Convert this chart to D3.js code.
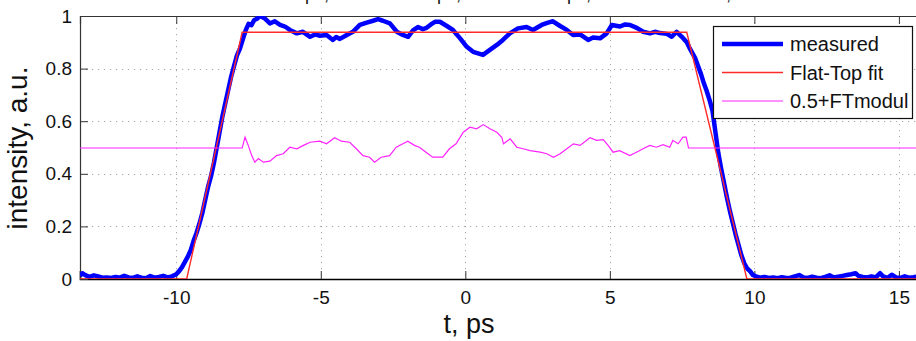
<!DOCTYPE html>
<html>
<head>
<meta charset="utf-8">
<script src="https://cdn.jsdelivr.net/npm/d3@7"></script>
<style>
  html, body { margin: 0; padding: 0; background: #fff; }
  svg { display: block; font-family: "Liberation Sans", Arial, Helvetica, sans-serif; }
</style>
</head>
<body>
<svg id="chart" width="916" height="341"></svg>
<script>
// Pulse intensity profile: measured trace, flat-top fit, and 0.5 + modulation
const xTicks = [-10, -5, 0, 5, 10, 15];
const yTicks = [0, 0.2, 0.4, 0.6, 0.8, 1];
const seriesNames = ["measured", "Flat-Top fit", "0.5+FTmodul"];
const titleParts = ["\u03c4rise=1.92ps,", "\u03c4fall=2.08ps,", "FWHM=17.38ps,", "mod=4.6%,", "rms=2.1%"];

// measured trace [t (ps), intensity]
const measured = [
  [-13.33,0.012],[-13.25,0.022],[-13.15,0.015],[-13.0,0.008],[-12.85,0.014],[-12.7,0.01],
  [-12.55,0.005],[-12.4,0.006],[-12.25,0.004],[-12.1,0.008],[-11.95,0.005],[-11.8,0.012],
  [-11.65,0.006],[-11.5,0.004],[-11.35,0.01],[-11.2,0.005],[-11.05,0.003],[-10.9,0.011],
  [-10.75,0.005],[-10.6,0.008],[-10.45,0.012],[-10.3,0.006],[-10.15,0.01],
  [-10.0,0.018],[-9.9,0.03],[-9.8,0.045],[-9.7,0.065],[-9.6,0.085],[-9.5,0.11],[-9.4,0.145],
  [-9.3,0.175],[-9.2,0.21],[-9.1,0.25],[-9.0,0.3],[-8.9,0.35],[-8.8,0.39],[-8.7,0.44],
  [-8.6,0.5],[-8.5,0.56],[-8.4,0.62],[-8.3,0.67],[-8.2,0.72],[-8.1,0.77],[-8.0,0.81],
  [-7.9,0.85],[-7.8,0.875],[-7.7,0.91],[-7.6,0.945],[-7.5,0.97],[-7.4,0.965],[-7.3,0.985],
  [-7.2,0.99],[-7.1,1.0],[-6.93,0.99],[-6.76,0.972],[-6.59,0.98],[-6.41,0.966],[-6.24,0.96],
  [-6.07,0.947],[-5.83,0.934],[-5.62,0.94],[-5.37,0.921],[-5.2,0.93],[-5.03,0.925],
  [-4.8,0.928],[-4.58,0.909],[-4.47,0.92],[-4.34,0.913],[-4.1,0.928],[-3.89,0.94],
  [-3.65,0.966],[-3.41,0.975],[-3.19,0.982],[-3.02,0.988],[-2.85,0.982],[-2.61,0.972],
  [-2.37,0.94],[-2.16,0.928],[-1.98,0.921],[-1.81,0.945],[-1.64,0.958],[-1.47,0.95],
  [-1.34,0.955],[-1.19,0.968],[-1.05,0.978],[-0.88,0.978],[-0.64,0.962],[-0.43,0.947],
  [-0.18,0.915],[0.05,0.883],[0.27,0.864],[0.44,0.858],[0.61,0.852],[0.85,0.871],
  [1.09,0.89],[1.3,0.909],[1.54,0.934],[1.82,0.953],[2.12,0.958],[2.34,0.947],[2.64,0.966],
  [2.86,0.975],[3.03,0.98],[3.28,0.962],[3.51,0.947],[3.73,0.928],[3.97,0.93],[4.25,0.909],
  [4.42,0.918],[4.66,0.915],[4.89,0.934],[5.07,0.966],[5.35,0.96],[5.53,0.968],[5.7,0.966],
  [5.93,0.955],[6.15,0.94],[6.39,0.934],[6.56,0.94],[6.74,0.935],[6.97,0.932],[7.14,0.921],
  [7.31,0.94],[7.49,0.921],[7.66,0.9],[7.75,0.88],[7.85,0.86],[7.95,0.84],[8.05,0.81],
  [8.15,0.78],[8.25,0.745],[8.35,0.715],[8.45,0.68],[8.55,0.64],[8.65,0.56],[8.75,0.48],
  [8.85,0.42],[8.95,0.365],[9.05,0.31],[9.15,0.26],[9.25,0.215],[9.35,0.17],[9.45,0.13],
  [9.55,0.09],[9.65,0.06],[9.75,0.04],[9.85,0.03],[9.95,0.015],[10.05,0.01],[10.2,0.005],
  [10.35,0.008],[10.5,0.004],[10.65,0.006],[10.8,0.003],[10.95,0.007],[11.1,0.004],
  [11.25,0.005],[11.4,0.01],[11.55,0.015],[11.7,0.006],[11.85,0.004],[12.0,0.009],
  [12.15,0.005],[12.3,0.003],[12.45,0.008],[12.6,0.014],[12.75,0.006],[12.9,0.009],
  [13.05,0.012],[13.2,0.015],[13.35,0.018],[13.5,0.022],[13.6,0.012],[13.75,0.008],
  [13.9,0.006],[14.05,0.01],[14.2,0.006],[14.35,0.022],[14.45,0.01],[14.6,0.004],
  [14.75,0.016],[14.9,0.006],[15.05,0.004],[15.2,0.01],[15.35,0.005],[15.5,0.007],[15.66,0.01]
];

// flat-top fit: trapezoid corners [t, intensity]
const flatTopFit = [
  [-13.33,0],[-9.64,0],[-7.72,0.938],[7.66,0.938],[9.74,0],[15.66,0]
];

// 0.5 + modulation of the top [t, value]
const ftModul = [
  [-13.33,0.5],[-7.72,0.5],[-7.62,0.541],[-7.51,0.51],[-7.39,0.471],[-7.28,0.446],
  [-7.16,0.46],[-6.99,0.446],[-6.76,0.45],[-6.53,0.471],[-6.3,0.478],[-6.07,0.503],
  [-5.83,0.497],[-5.6,0.51],[-5.37,0.522],[-5.03,0.526],[-4.8,0.516],[-4.52,0.539],
  [-4.29,0.526],[-4.0,0.522],[-3.77,0.497],[-3.54,0.471],[-3.31,0.465],[-3.14,0.446],
  [-2.91,0.465],[-2.62,0.471],[-2.39,0.503],[-2.16,0.516],[-1.99,0.526],[-1.76,0.51],
  [-1.59,0.503],[-1.36,0.484],[-1.13,0.465],[-0.78,0.465],[-0.55,0.497],[-0.32,0.516],
  [-0.07,0.56],[0.16,0.579],[0.39,0.573],[0.62,0.589],[0.85,0.573],[1.09,0.56],
  [1.26,0.541],[1.32,0.516],[1.55,0.535],[1.78,0.503],[2.0,0.497],[2.24,0.49],
  [2.59,0.484],[2.82,0.478],[3.05,0.465],[3.28,0.478],[3.51,0.497],[3.74,0.516],
  [3.97,0.51],[4.31,0.539],[4.54,0.529],[4.77,0.532],[4.94,0.51],[5.11,0.484],
  [5.34,0.49],[5.69,0.471],[5.92,0.484],[6.15,0.497],[6.38,0.51],[6.61,0.503],
  [6.84,0.513],[7.07,0.503],[7.18,0.529],[7.36,0.516],[7.53,0.541],[7.64,0.541],
  [7.72,0.5],[15.66,0.5]
];

const svg = d3.select("#chart");
const plotLeft = 80, plotRight = 918, plotTop = 16, plotBottom = 279;

const x = d3.scaleLinear().domain([-13.33, 15.66]).range([plotLeft, plotRight]);
const y = d3.scaleLinear().domain([0, 1]).range([plotBottom, plotTop]);

svg.append("defs").append("clipPath").attr("id", "plotClip")
  .append("rect").attr("x", plotLeft).attr("y", plotTop)
  .attr("width", plotRight - plotLeft).attr("height", plotBottom - plotTop);

// dotted grid
const grid = svg.append("g").attr("stroke", "#a8a8a8").attr("stroke-width", 1)
  .attr("stroke-dasharray", "1.2,4.8");
grid.selectAll("line.gx").data(xTicks).join("line").attr("class", "gx")
  .attr("x1", d => Math.round(x(d)) + 0.5).attr("x2", d => Math.round(x(d)) + 0.5)
  .attr("y1", plotTop).attr("y2", plotBottom);
grid.selectAll("line.gy").data(yTicks.filter(d => d > 0 && d < 1)).join("line").attr("class", "gy")
  .attr("x1", plotLeft).attr("x2", plotRight)
  .attr("y1", d => Math.round(y(d)) + 0.5).attr("y2", d => Math.round(y(d)) + 0.5);

// axes (ticks inward, box on top)
const hyphenInt = d => String(d);
const xAxisB = d3.axisBottom(x).tickValues(xTicks).tickSize(-8).tickPadding(12).tickFormat(hyphenInt);
const xAxisT = d3.axisTop(x).tickValues(xTicks).tickSize(-8).tickFormat("");
const yAxisL = d3.axisLeft(y).tickValues(yTicks).tickSize(-8).tickPadding(16)
  .tickFormat(d => d === 0 || d === 1 ? String(d) : d3.format(".1f")(d));

const gx = svg.append("g").attr("transform", `translate(0,${plotBottom})`).call(xAxisB);
const gt = svg.append("g").attr("transform", `translate(0,${plotTop})`).call(xAxisT);
const gy = svg.append("g").attr("transform", `translate(${plotLeft},0)`).call(yAxisL);

[gx, gt, gy].forEach(g => {
  g.select(".domain").attr("stroke", "#333").attr("stroke-width", 1.2);
  g.selectAll(".tick line").attr("stroke", "#333");
  g.selectAll(".tick text").attr("fill", "#111").style("font-size", "19px")
    .style("font-family", "'Liberation Sans', Arial, sans-serif");
});
gy.selectAll(".tick line").filter(d => d === 0 || d === 1).remove();
gx.select(".domain").attr("stroke", "#000").attr("stroke-width", 1.6);
gy.selectAll(".tick text").attr("x", -8);

// data lines
const line = d3.line().x(d => x(d[0])).y(d => y(d[1]));
const plot = svg.append("g").attr("clip-path", "url(#plotClip)");
plot.append("path").datum(measured).attr("d", line)
  .attr("fill", "none").attr("stroke", "#0000ff").attr("stroke-width", 4.5)
  .attr("stroke-linejoin", "round");
plot.append("path").datum(flatTopFit).attr("d", line)
  .attr("fill", "none").attr("stroke", "#ff2a2a").attr("stroke-width", 1.4);
plot.append("path").datum(ftModul).attr("d", line).attr("transform", "translate(0,0.5)")
  .attr("fill", "none").attr("stroke", "#ff22ff").attr("stroke-width", 1.2);

// axis labels
svg.append("text").attr("x", 469).attr("y", 333).attr("text-anchor", "middle")
  .style("font-size", "27px").attr("fill", "#111").text("t, ps");
svg.append("text").attr("transform", "translate(27,148) rotate(-90)").attr("text-anchor", "middle")
  .style("font-size", "28px").attr("fill", "#111").text("intensity, a.u.");

// title (runs above the top edge)
const title = svg.append("text").attr("y", -0.5).attr("text-anchor", "end")
  .style("font-size", "18px").attr("fill", "#111");
const titleEnds = [329, 461, 591, 731, 880];
titleParts.forEach((s, i) => title.append("tspan").attr("x", titleEnds[i]).text(s));

// legend
const legend = svg.append("g");
legend.append("rect").attr("x", 713.5).attr("y", 26.5).attr("width", 199).attr("height", 92)
  .attr("fill", "#fff").attr("stroke", "#111").attr("stroke-width", 1.2);
const legStyles = [
  {c: "#0000ff", w: 4.5}, {c: "#ff2a2a", w: 1.4}, {c: "#ff22ff", w: 1.2}
];
const legY = [44, 72.5, 101];
seriesNames.forEach((name, i) => {
  legend.append("line").attr("x1", 722).attr("x2", 783).attr("y1", legY[i]).attr("y2", legY[i])
    .attr("stroke", legStyles[i].c).attr("stroke-width", legStyles[i].w);
  legend.append("text").attr("x", 790).attr("y", legY[i]).attr("dy", "0.35em")
    .style("font-size", "20px").attr("fill", "#111").text(name);
});
</script>
</body>
</html>
